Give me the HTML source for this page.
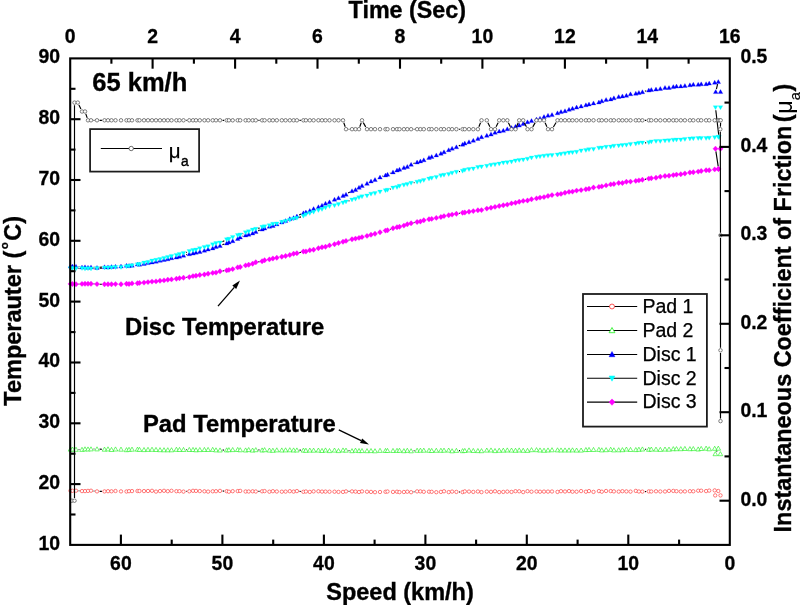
<!DOCTYPE html>
<html><head><meta charset="utf-8"><title>chart</title>
<style>html,body{margin:0;padding:0;background:#fff;}body{width:800px;height:605px;overflow:hidden;font-family:"Liberation Sans",sans-serif;}</style></head>
<body>
<svg width="800" height="605" viewBox="0 0 800 605" style="display:block;will-change:transform;transform:translateZ(0)">
<rect width="800" height="605" fill="#fff"/>
<path d="M78.6 490.8 L79.4 490.9 M93.6 491.0 L94.4 491.1 M99.6 491.4 L101.9 491.4 M186.1 491.4 L186.7 491.4 M222.6 491.0 L224.1 491.1 M258.4 491.4 L259.5 491.4 M299.5 491.3 L300.8 491.5 M348.6 491.4 L349.4 491.4 M413.7 491.9 L414.5 491.8 M459.0 492.0 L460.0 492.0 M645.0 491.6 L646.2 491.5" fill="none" stroke="#000" stroke-width="1.15"/>
<g fill="#fff" stroke="#ff2a2a" stroke-width="0.62"><circle cx="70.5" cy="490.7" r="1.7"/><circle cx="72.5" cy="490.8" r="1.7"/><circle cx="76.0" cy="490.7" r="1.7"/><circle cx="82.0" cy="491.1" r="1.7"/><circle cx="85.0" cy="491.1" r="1.7"/><circle cx="88.0" cy="490.9" r="1.7"/><circle cx="91.0" cy="490.7" r="1.7"/><circle cx="97.0" cy="491.4" r="1.7"/><circle cx="104.5" cy="491.4" r="1.7"/><circle cx="108.0" cy="491.2" r="1.7"/><circle cx="111.5" cy="491.3" r="1.7"/><circle cx="115.5" cy="491.0" r="1.7"/><circle cx="121.0" cy="491.4" r="1.7"/><circle cx="126.5" cy="491.5" r="1.7"/><circle cx="129.0" cy="491.2" r="1.7"/><circle cx="132.0" cy="491.1" r="1.7"/><circle cx="137.5" cy="491.0" r="1.7"/><circle cx="139.5" cy="491.0" r="1.7"/><circle cx="144.0" cy="491.1" r="1.7"/><circle cx="148.0" cy="491.0" r="1.7"/><circle cx="152.0" cy="490.8" r="1.7"/><circle cx="156.0" cy="491.6" r="1.7"/><circle cx="160.0" cy="491.1" r="1.7"/><circle cx="164.0" cy="490.8" r="1.7"/><circle cx="167.8" cy="491.2" r="1.7"/><circle cx="171.5" cy="490.8" r="1.7"/><circle cx="176.4" cy="491.2" r="1.7"/><circle cx="179.5" cy="491.2" r="1.7"/><circle cx="183.5" cy="491.6" r="1.7"/><circle cx="189.3" cy="491.3" r="1.7"/><circle cx="193.0" cy="490.8" r="1.7"/><circle cx="196.0" cy="490.9" r="1.7"/><circle cx="199.8" cy="491.1" r="1.7"/><circle cx="204.4" cy="491.3" r="1.7"/><circle cx="208.1" cy="491.6" r="1.7"/><circle cx="212.7" cy="491.3" r="1.7"/><circle cx="216.0" cy="491.2" r="1.7"/><circle cx="220.0" cy="490.9" r="1.7"/><circle cx="226.7" cy="491.2" r="1.7"/><circle cx="228.9" cy="491.7" r="1.7"/><circle cx="232.7" cy="491.2" r="1.7"/><circle cx="237.7" cy="491.1" r="1.7"/><circle cx="240.2" cy="490.9" r="1.7"/><circle cx="245.6" cy="491.5" r="1.7"/><circle cx="248.7" cy="491.5" r="1.7"/><circle cx="252.6" cy="491.3" r="1.7"/><circle cx="255.8" cy="491.5" r="1.7"/><circle cx="262.1" cy="491.3" r="1.7"/><circle cx="264.6" cy="491.1" r="1.7"/><circle cx="269.4" cy="491.7" r="1.7"/><circle cx="272.9" cy="491.2" r="1.7"/><circle cx="276.8" cy="491.5" r="1.7"/><circle cx="281.8" cy="491.7" r="1.7"/><circle cx="285.6" cy="491.6" r="1.7"/><circle cx="289.8" cy="491.2" r="1.7"/><circle cx="293.6" cy="491.6" r="1.7"/><circle cx="296.9" cy="491.1" r="1.7"/><circle cx="303.4" cy="491.8" r="1.7"/><circle cx="305.9" cy="491.5" r="1.7"/><circle cx="309.8" cy="491.9" r="1.7"/><circle cx="313.6" cy="491.4" r="1.7"/><circle cx="318.4" cy="491.3" r="1.7"/><circle cx="322.0" cy="491.6" r="1.7"/><circle cx="325.5" cy="491.6" r="1.7"/><circle cx="329.5" cy="491.7" r="1.7"/><circle cx="334.5" cy="491.7" r="1.7"/><circle cx="338.5" cy="491.9" r="1.7"/><circle cx="343.0" cy="491.9" r="1.7"/><circle cx="346.0" cy="491.4" r="1.7"/><circle cx="352.0" cy="491.4" r="1.7"/><circle cx="355.5" cy="491.6" r="1.7"/><circle cx="359.0" cy="492.0" r="1.7"/><circle cx="362.0" cy="491.4" r="1.7"/><circle cx="367.0" cy="491.7" r="1.7"/><circle cx="371.0" cy="491.9" r="1.7"/><circle cx="375.0" cy="492.2" r="1.7"/><circle cx="380.0" cy="492.0" r="1.7"/><circle cx="385.5" cy="491.8" r="1.7"/><circle cx="387.5" cy="491.5" r="1.7"/><circle cx="393.0" cy="491.9" r="1.7"/><circle cx="397.0" cy="491.7" r="1.7"/><circle cx="399.5" cy="492.1" r="1.7"/><circle cx="403.9" cy="492.0" r="1.7"/><circle cx="407.3" cy="491.7" r="1.7"/><circle cx="411.1" cy="492.2" r="1.7"/><circle cx="417.1" cy="491.4" r="1.7"/><circle cx="420.4" cy="491.4" r="1.7"/><circle cx="423.8" cy="491.8" r="1.7"/><circle cx="429.0" cy="491.7" r="1.7"/><circle cx="431.7" cy="491.8" r="1.7"/><circle cx="436.3" cy="492.2" r="1.7"/><circle cx="440.9" cy="491.9" r="1.7"/><circle cx="444.0" cy="491.3" r="1.7"/><circle cx="448.7" cy="492.1" r="1.7"/><circle cx="452.1" cy="491.6" r="1.7"/><circle cx="456.4" cy="491.9" r="1.7"/><circle cx="462.6" cy="492.1" r="1.7"/><circle cx="464.8" cy="491.4" r="1.7"/><circle cx="469.0" cy="491.6" r="1.7"/><circle cx="473.3" cy="491.9" r="1.7"/><circle cx="477.9" cy="491.5" r="1.7"/><circle cx="481.5" cy="492.1" r="1.7"/><circle cx="486.8" cy="491.6" r="1.7"/><circle cx="491.0" cy="491.8" r="1.7"/><circle cx="495.0" cy="491.3" r="1.7"/><circle cx="499.2" cy="492.1" r="1.7"/><circle cx="503.3" cy="491.9" r="1.7"/><circle cx="507.3" cy="491.6" r="1.7"/><circle cx="511.5" cy="491.9" r="1.7"/><circle cx="515.5" cy="491.2" r="1.7"/><circle cx="519.2" cy="491.3" r="1.7"/><circle cx="523.2" cy="492.1" r="1.7"/><circle cx="527.5" cy="491.2" r="1.7"/><circle cx="531.5" cy="491.7" r="1.7"/><circle cx="536.5" cy="491.5" r="1.7"/><circle cx="540.0" cy="491.7" r="1.7"/><circle cx="544.0" cy="491.6" r="1.7"/><circle cx="548.0" cy="491.6" r="1.7"/><circle cx="552.0" cy="491.5" r="1.7"/><circle cx="557.5" cy="491.9" r="1.7"/><circle cx="561.0" cy="491.2" r="1.7"/><circle cx="565.0" cy="491.5" r="1.7"/><circle cx="569.0" cy="491.1" r="1.7"/><circle cx="572.5" cy="491.7" r="1.7"/><circle cx="576.6" cy="491.7" r="1.7"/><circle cx="581.1" cy="491.1" r="1.7"/><circle cx="585.9" cy="491.7" r="1.7"/><circle cx="589.0" cy="491.1" r="1.7"/><circle cx="593.5" cy="491.9" r="1.7"/><circle cx="598.9" cy="491.1" r="1.7"/><circle cx="601.8" cy="491.7" r="1.7"/><circle cx="606.1" cy="491.0" r="1.7"/><circle cx="610.7" cy="491.1" r="1.7"/><circle cx="613.9" cy="491.4" r="1.7"/><circle cx="618.7" cy="491.6" r="1.7"/><circle cx="622.4" cy="491.2" r="1.7"/><circle cx="626.4" cy="491.4" r="1.7"/><circle cx="630.5" cy="491.6" r="1.7"/><circle cx="635.8" cy="490.9" r="1.7"/><circle cx="638.9" cy="491.5" r="1.7"/><circle cx="642.4" cy="491.6" r="1.7"/><circle cx="648.8" cy="491.4" r="1.7"/><circle cx="651.3" cy="491.5" r="1.7"/><circle cx="656.0" cy="491.3" r="1.7"/><circle cx="660.3" cy="491.5" r="1.7"/><circle cx="665.0" cy="491.5" r="1.7"/><circle cx="669.0" cy="490.9" r="1.7"/><circle cx="673.3" cy="490.9" r="1.7"/><circle cx="676.5" cy="491.2" r="1.7"/><circle cx="680.8" cy="491.5" r="1.7"/><circle cx="684.9" cy="491.4" r="1.7"/><circle cx="689.9" cy="491.2" r="1.7"/><circle cx="693.3" cy="491.3" r="1.7"/><circle cx="698.2" cy="490.7" r="1.7"/><circle cx="701.2" cy="490.7" r="1.7"/><circle cx="706.1" cy="491.1" r="1.7"/><circle cx="709.2" cy="490.6" r="1.7"/><circle cx="714.7" cy="490.4" r="1.7"/><circle cx="718.3" cy="491.0" r="1.7"/><circle cx="715.2" cy="495.4" r="1.7"/><circle cx="720.5" cy="495.4" r="1.7"/></g>
<path d="M78.6 449.5 L79.4 449.5 M93.6 449.0 L94.4 449.0 M99.6 449.1 L101.9 449.2 M186.1 449.6 L186.7 449.6 M222.6 450.1 L224.1 450.0 M258.4 449.9 L259.5 450.0 M299.5 450.1 L300.8 450.1 M348.6 450.5 L349.4 450.6 M413.7 450.7 L414.5 450.6 M459.0 450.6 L460.0 450.6 M645.0 449.2 L646.2 449.3 M717.1 450.6 L716.5 451.5" fill="none" stroke="#000" stroke-width="1.15"/>
<g fill="#fff" stroke="#19f019" stroke-width="0.62"><path d="M70.5 447.0 l2.3 4.1 h-4.6z"/><path d="M72.5 447.0 l2.3 4.1 h-4.6z"/><path d="M76.0 447.2 l2.3 4.1 h-4.6z"/><path d="M82.0 447.3 l2.3 4.1 h-4.6z"/><path d="M85.0 446.8 l2.3 4.1 h-4.6z"/><path d="M88.0 446.9 l2.3 4.1 h-4.6z"/><path d="M91.0 446.8 l2.3 4.1 h-4.6z"/><path d="M97.0 446.8 l2.3 4.1 h-4.6z"/><path d="M104.5 447.1 l2.3 4.1 h-4.6z"/><path d="M108.0 446.8 l2.3 4.1 h-4.6z"/><path d="M111.5 447.4 l2.3 4.1 h-4.6z"/><path d="M115.5 446.9 l2.3 4.1 h-4.6z"/><path d="M121.0 447.1 l2.3 4.1 h-4.6z"/><path d="M126.5 447.6 l2.3 4.1 h-4.6z"/><path d="M129.0 447.3 l2.3 4.1 h-4.6z"/><path d="M132.0 447.1 l2.3 4.1 h-4.6z"/><path d="M137.5 447.1 l2.3 4.1 h-4.6z"/><path d="M139.5 447.3 l2.3 4.1 h-4.6z"/><path d="M144.0 447.5 l2.3 4.1 h-4.6z"/><path d="M148.0 447.3 l2.3 4.1 h-4.6z"/><path d="M152.0 447.2 l2.3 4.1 h-4.6z"/><path d="M156.0 447.4 l2.3 4.1 h-4.6z"/><path d="M160.0 447.6 l2.3 4.1 h-4.6z"/><path d="M164.0 447.7 l2.3 4.1 h-4.6z"/><path d="M167.8 447.7 l2.3 4.1 h-4.6z"/><path d="M171.5 447.7 l2.3 4.1 h-4.6z"/><path d="M176.4 447.2 l2.3 4.1 h-4.6z"/><path d="M179.5 447.4 l2.3 4.1 h-4.6z"/><path d="M183.5 447.4 l2.3 4.1 h-4.6z"/><path d="M189.3 447.4 l2.3 4.1 h-4.6z"/><path d="M193.0 447.4 l2.3 4.1 h-4.6z"/><path d="M196.0 447.7 l2.3 4.1 h-4.6z"/><path d="M199.8 447.5 l2.3 4.1 h-4.6z"/><path d="M204.4 447.4 l2.3 4.1 h-4.6z"/><path d="M208.1 447.4 l2.3 4.1 h-4.6z"/><path d="M212.7 447.3 l2.3 4.1 h-4.6z"/><path d="M216.0 447.8 l2.3 4.1 h-4.6z"/><path d="M220.0 447.9 l2.3 4.1 h-4.6z"/><path d="M226.7 447.8 l2.3 4.1 h-4.6z"/><path d="M228.9 447.6 l2.3 4.1 h-4.6z"/><path d="M232.7 447.5 l2.3 4.1 h-4.6z"/><path d="M237.7 447.4 l2.3 4.1 h-4.6z"/><path d="M240.2 447.7 l2.3 4.1 h-4.6z"/><path d="M245.6 447.9 l2.3 4.1 h-4.6z"/><path d="M248.7 447.5 l2.3 4.1 h-4.6z"/><path d="M252.6 448.0 l2.3 4.1 h-4.6z"/><path d="M255.8 447.6 l2.3 4.1 h-4.6z"/><path d="M262.1 447.9 l2.3 4.1 h-4.6z"/><path d="M264.6 447.6 l2.3 4.1 h-4.6z"/><path d="M269.4 448.0 l2.3 4.1 h-4.6z"/><path d="M272.9 448.2 l2.3 4.1 h-4.6z"/><path d="M276.8 447.8 l2.3 4.1 h-4.6z"/><path d="M281.8 447.9 l2.3 4.1 h-4.6z"/><path d="M285.6 447.8 l2.3 4.1 h-4.6z"/><path d="M289.8 447.7 l2.3 4.1 h-4.6z"/><path d="M293.6 447.9 l2.3 4.1 h-4.6z"/><path d="M296.9 447.9 l2.3 4.1 h-4.6z"/><path d="M303.4 448.0 l2.3 4.1 h-4.6z"/><path d="M305.9 448.2 l2.3 4.1 h-4.6z"/><path d="M309.8 448.0 l2.3 4.1 h-4.6z"/><path d="M313.6 448.1 l2.3 4.1 h-4.6z"/><path d="M318.4 448.0 l2.3 4.1 h-4.6z"/><path d="M322.0 448.4 l2.3 4.1 h-4.6z"/><path d="M325.5 447.9 l2.3 4.1 h-4.6z"/><path d="M329.5 448.5 l2.3 4.1 h-4.6z"/><path d="M334.5 448.0 l2.3 4.1 h-4.6z"/><path d="M338.5 448.5 l2.3 4.1 h-4.6z"/><path d="M343.0 447.9 l2.3 4.1 h-4.6z"/><path d="M346.0 448.1 l2.3 4.1 h-4.6z"/><path d="M352.0 448.6 l2.3 4.1 h-4.6z"/><path d="M355.5 448.1 l2.3 4.1 h-4.6z"/><path d="M359.0 448.5 l2.3 4.1 h-4.6z"/><path d="M362.0 448.5 l2.3 4.1 h-4.6z"/><path d="M367.0 448.6 l2.3 4.1 h-4.6z"/><path d="M371.0 448.5 l2.3 4.1 h-4.6z"/><path d="M375.0 448.7 l2.3 4.1 h-4.6z"/><path d="M380.0 448.3 l2.3 4.1 h-4.6z"/><path d="M385.5 448.4 l2.3 4.1 h-4.6z"/><path d="M387.5 448.4 l2.3 4.1 h-4.6z"/><path d="M393.0 448.4 l2.3 4.1 h-4.6z"/><path d="M397.0 448.3 l2.3 4.1 h-4.6z"/><path d="M399.5 448.2 l2.3 4.1 h-4.6z"/><path d="M403.9 448.6 l2.3 4.1 h-4.6z"/><path d="M407.3 448.2 l2.3 4.1 h-4.6z"/><path d="M411.1 448.7 l2.3 4.1 h-4.6z"/><path d="M417.1 448.2 l2.3 4.1 h-4.6z"/><path d="M420.4 448.1 l2.3 4.1 h-4.6z"/><path d="M423.8 448.1 l2.3 4.1 h-4.6z"/><path d="M429.0 448.2 l2.3 4.1 h-4.6z"/><path d="M431.7 448.4 l2.3 4.1 h-4.6z"/><path d="M436.3 448.2 l2.3 4.1 h-4.6z"/><path d="M440.9 448.2 l2.3 4.1 h-4.6z"/><path d="M444.0 448.1 l2.3 4.1 h-4.6z"/><path d="M448.7 448.0 l2.3 4.1 h-4.6z"/><path d="M452.1 448.7 l2.3 4.1 h-4.6z"/><path d="M456.4 448.3 l2.3 4.1 h-4.6z"/><path d="M462.6 448.6 l2.3 4.1 h-4.6z"/><path d="M464.8 448.4 l2.3 4.1 h-4.6z"/><path d="M469.0 447.9 l2.3 4.1 h-4.6z"/><path d="M473.3 448.4 l2.3 4.1 h-4.6z"/><path d="M477.9 448.5 l2.3 4.1 h-4.6z"/><path d="M481.5 448.6 l2.3 4.1 h-4.6z"/><path d="M486.8 448.0 l2.3 4.1 h-4.6z"/><path d="M491.0 447.9 l2.3 4.1 h-4.6z"/><path d="M495.0 448.5 l2.3 4.1 h-4.6z"/><path d="M499.2 448.2 l2.3 4.1 h-4.6z"/><path d="M503.3 448.1 l2.3 4.1 h-4.6z"/><path d="M507.3 447.9 l2.3 4.1 h-4.6z"/><path d="M511.5 448.0 l2.3 4.1 h-4.6z"/><path d="M515.5 448.2 l2.3 4.1 h-4.6z"/><path d="M519.2 447.9 l2.3 4.1 h-4.6z"/><path d="M523.2 448.2 l2.3 4.1 h-4.6z"/><path d="M527.5 448.3 l2.3 4.1 h-4.6z"/><path d="M531.5 447.6 l2.3 4.1 h-4.6z"/><path d="M536.5 447.6 l2.3 4.1 h-4.6z"/><path d="M540.0 447.9 l2.3 4.1 h-4.6z"/><path d="M544.0 448.2 l2.3 4.1 h-4.6z"/><path d="M548.0 447.9 l2.3 4.1 h-4.6z"/><path d="M552.0 447.7 l2.3 4.1 h-4.6z"/><path d="M557.5 447.8 l2.3 4.1 h-4.6z"/><path d="M561.0 447.9 l2.3 4.1 h-4.6z"/><path d="M565.0 447.9 l2.3 4.1 h-4.6z"/><path d="M569.0 447.9 l2.3 4.1 h-4.6z"/><path d="M572.5 447.8 l2.3 4.1 h-4.6z"/><path d="M576.6 448.0 l2.3 4.1 h-4.6z"/><path d="M581.1 448.0 l2.3 4.1 h-4.6z"/><path d="M585.9 447.5 l2.3 4.1 h-4.6z"/><path d="M589.0 447.4 l2.3 4.1 h-4.6z"/><path d="M593.5 447.4 l2.3 4.1 h-4.6z"/><path d="M598.9 447.3 l2.3 4.1 h-4.6z"/><path d="M601.8 447.8 l2.3 4.1 h-4.6z"/><path d="M606.1 447.6 l2.3 4.1 h-4.6z"/><path d="M610.7 447.2 l2.3 4.1 h-4.6z"/><path d="M613.9 447.8 l2.3 4.1 h-4.6z"/><path d="M618.7 447.7 l2.3 4.1 h-4.6z"/><path d="M622.4 447.6 l2.3 4.1 h-4.6z"/><path d="M626.4 447.0 l2.3 4.1 h-4.6z"/><path d="M630.5 447.4 l2.3 4.1 h-4.6z"/><path d="M635.8 447.5 l2.3 4.1 h-4.6z"/><path d="M638.9 447.2 l2.3 4.1 h-4.6z"/><path d="M642.4 446.9 l2.3 4.1 h-4.6z"/><path d="M648.8 447.2 l2.3 4.1 h-4.6z"/><path d="M651.3 447.0 l2.3 4.1 h-4.6z"/><path d="M656.0 447.1 l2.3 4.1 h-4.6z"/><path d="M660.3 447.3 l2.3 4.1 h-4.6z"/><path d="M665.0 447.0 l2.3 4.1 h-4.6z"/><path d="M669.0 447.1 l2.3 4.1 h-4.6z"/><path d="M673.3 446.6 l2.3 4.1 h-4.6z"/><path d="M676.5 446.6 l2.3 4.1 h-4.6z"/><path d="M680.8 446.6 l2.3 4.1 h-4.6z"/><path d="M684.9 446.4 l2.3 4.1 h-4.6z"/><path d="M689.9 446.6 l2.3 4.1 h-4.6z"/><path d="M693.3 446.5 l2.3 4.1 h-4.6z"/><path d="M698.2 446.9 l2.3 4.1 h-4.6z"/><path d="M701.2 446.4 l2.3 4.1 h-4.6z"/><path d="M706.1 446.1 l2.3 4.1 h-4.6z"/><path d="M709.2 446.7 l2.3 4.1 h-4.6z"/><path d="M714.7 446.2 l2.3 4.1 h-4.6z"/><path d="M718.3 446.1 l2.3 4.1 h-4.6z"/><path d="M715.3 451.6 l2.3 4.1 h-4.6z"/><path d="M720.4 451.6 l2.3 4.1 h-4.6z"/></g>
<path d="M78.6 266.7 L79.4 266.8 M93.6 267.2 L94.4 267.3 M99.6 267.2 L101.9 267.0 M186.0 254.7 L186.8 254.5 M222.4 244.7 L224.3 244.0 M242.6 236.3 L243.2 236.1 M258.2 230.6 L259.7 230.1 M299.2 215.0 L301.1 214.1 M348.2 193.0 L349.8 192.1 M382.4 176.3 L383.1 176.0 M389.9 173.3 L390.6 173.0 M413.5 163.5 L414.7 163.0 M458.8 145.9 L460.2 145.3 M644.9 91.2 L646.3 90.8 M717.6 84.2 L716.4 89.2" fill="none" stroke="#000" stroke-width="1.15"/>
<g fill="#0000ff" stroke="#0000ff" stroke-width="0.25"><path d="M70.5 264.0 l2.3 4.0 h-4.6z"/><path d="M72.5 264.0 l2.3 4.0 h-4.6z"/><path d="M76.0 264.3 l2.3 4.0 h-4.6z"/><path d="M82.0 265.0 l2.3 4.0 h-4.6z"/><path d="M85.0 264.8 l2.3 4.0 h-4.6z"/><path d="M88.0 265.3 l2.3 4.0 h-4.6z"/><path d="M91.0 264.9 l2.3 4.0 h-4.6z"/><path d="M97.0 265.4 l2.3 4.0 h-4.6z"/><path d="M104.5 264.7 l2.3 4.0 h-4.6z"/><path d="M108.0 264.9 l2.3 4.0 h-4.6z"/><path d="M111.5 264.6 l2.3 4.0 h-4.6z"/><path d="M115.5 264.3 l2.3 4.0 h-4.6z"/><path d="M121.0 264.1 l2.3 4.0 h-4.6z"/><path d="M126.5 263.3 l2.3 4.0 h-4.6z"/><path d="M129.0 263.6 l2.3 4.0 h-4.6z"/><path d="M132.0 263.2 l2.3 4.0 h-4.6z"/><path d="M137.5 262.0 l2.3 4.0 h-4.6z"/><path d="M139.5 262.2 l2.3 4.0 h-4.6z"/><path d="M144.0 261.4 l2.3 4.0 h-4.6z"/><path d="M148.0 260.6 l2.3 4.0 h-4.6z"/><path d="M152.0 260.0 l2.3 4.0 h-4.6z"/><path d="M156.0 259.2 l2.3 4.0 h-4.6z"/><path d="M160.0 258.3 l2.3 4.0 h-4.6z"/><path d="M164.0 257.4 l2.3 4.0 h-4.6z"/><path d="M167.8 256.8 l2.3 4.0 h-4.6z"/><path d="M171.5 255.7 l2.3 4.0 h-4.6z"/><path d="M176.4 255.1 l2.3 4.0 h-4.6z"/><path d="M179.5 254.3 l2.3 4.0 h-4.6z"/><path d="M183.5 253.2 l2.3 4.0 h-4.6z"/><path d="M189.3 251.8 l2.3 4.0 h-4.6z"/><path d="M193.0 251.1 l2.3 4.0 h-4.6z"/><path d="M196.0 250.2 l2.3 4.0 h-4.6z"/><path d="M199.8 249.5 l2.3 4.0 h-4.6z"/><path d="M204.4 248.2 l2.3 4.0 h-4.6z"/><path d="M208.1 247.1 l2.3 4.0 h-4.6z"/><path d="M212.7 245.9 l2.3 4.0 h-4.6z"/><path d="M216.0 244.4 l2.3 4.0 h-4.6z"/><path d="M220.0 243.5 l2.3 4.0 h-4.6z"/><path d="M226.7 241.0 l2.3 4.0 h-4.6z"/><path d="M228.9 240.0 l2.3 4.0 h-4.6z"/><path d="M232.7 238.7 l2.3 4.0 h-4.6z"/><path d="M237.7 236.5 l2.3 4.0 h-4.6z"/><path d="M240.2 235.1 l2.3 4.0 h-4.6z"/><path d="M245.6 233.0 l2.3 4.0 h-4.6z"/><path d="M248.7 232.2 l2.3 4.0 h-4.6z"/><path d="M252.6 231.0 l2.3 4.0 h-4.6z"/><path d="M255.8 229.4 l2.3 4.0 h-4.6z"/><path d="M262.1 227.1 l2.3 4.0 h-4.6z"/><path d="M264.6 226.0 l2.3 4.0 h-4.6z"/><path d="M269.4 224.3 l2.3 4.0 h-4.6z"/><path d="M272.9 223.5 l2.3 4.0 h-4.6z"/><path d="M276.8 221.9 l2.3 4.0 h-4.6z"/><path d="M281.8 220.0 l2.3 4.0 h-4.6z"/><path d="M285.6 218.6 l2.3 4.0 h-4.6z"/><path d="M289.8 216.6 l2.3 4.0 h-4.6z"/><path d="M293.6 215.6 l2.3 4.0 h-4.6z"/><path d="M296.9 214.1 l2.3 4.0 h-4.6z"/><path d="M303.4 210.8 l2.3 4.0 h-4.6z"/><path d="M305.9 210.0 l2.3 4.0 h-4.6z"/><path d="M309.8 208.4 l2.3 4.0 h-4.6z"/><path d="M313.6 206.6 l2.3 4.0 h-4.6z"/><path d="M318.4 204.7 l2.3 4.0 h-4.6z"/><path d="M322.0 203.2 l2.3 4.0 h-4.6z"/><path d="M325.5 201.2 l2.3 4.0 h-4.6z"/><path d="M329.5 199.8 l2.3 4.0 h-4.6z"/><path d="M334.5 197.2 l2.3 4.0 h-4.6z"/><path d="M338.5 195.7 l2.3 4.0 h-4.6z"/><path d="M343.0 193.4 l2.3 4.0 h-4.6z"/><path d="M346.0 192.2 l2.3 4.0 h-4.6z"/><path d="M352.0 188.7 l2.3 4.0 h-4.6z"/><path d="M355.5 187.5 l2.3 4.0 h-4.6z"/><path d="M359.0 185.3 l2.3 4.0 h-4.6z"/><path d="M362.0 183.5 l2.3 4.0 h-4.6z"/><path d="M367.0 181.3 l2.3 4.0 h-4.6z"/><path d="M371.0 179.0 l2.3 4.0 h-4.6z"/><path d="M375.0 177.5 l2.3 4.0 h-4.6z"/><path d="M380.0 175.1 l2.3 4.0 h-4.6z"/><path d="M385.5 173.0 l2.3 4.0 h-4.6z"/><path d="M387.5 172.2 l2.3 4.0 h-4.6z"/><path d="M393.0 169.9 l2.3 4.0 h-4.6z"/><path d="M397.0 168.0 l2.3 4.0 h-4.6z"/><path d="M399.5 167.2 l2.3 4.0 h-4.6z"/><path d="M403.9 165.4 l2.3 4.0 h-4.6z"/><path d="M407.3 164.4 l2.3 4.0 h-4.6z"/><path d="M411.1 162.3 l2.3 4.0 h-4.6z"/><path d="M417.1 160.0 l2.3 4.0 h-4.6z"/><path d="M420.4 158.9 l2.3 4.0 h-4.6z"/><path d="M423.8 157.8 l2.3 4.0 h-4.6z"/><path d="M429.0 155.4 l2.3 4.0 h-4.6z"/><path d="M431.7 154.5 l2.3 4.0 h-4.6z"/><path d="M436.3 152.9 l2.3 4.0 h-4.6z"/><path d="M440.9 151.3 l2.3 4.0 h-4.6z"/><path d="M444.0 149.8 l2.3 4.0 h-4.6z"/><path d="M448.7 147.7 l2.3 4.0 h-4.6z"/><path d="M452.1 146.2 l2.3 4.0 h-4.6z"/><path d="M456.4 144.8 l2.3 4.0 h-4.6z"/><path d="M462.6 142.2 l2.3 4.0 h-4.6z"/><path d="M464.8 141.1 l2.3 4.0 h-4.6z"/><path d="M469.0 139.7 l2.3 4.0 h-4.6z"/><path d="M473.3 138.2 l2.3 4.0 h-4.6z"/><path d="M477.9 136.4 l2.3 4.0 h-4.6z"/><path d="M481.5 134.7 l2.3 4.0 h-4.6z"/><path d="M486.8 133.3 l2.3 4.0 h-4.6z"/><path d="M491.0 132.1 l2.3 4.0 h-4.6z"/><path d="M495.0 130.3 l2.3 4.0 h-4.6z"/><path d="M499.2 129.1 l2.3 4.0 h-4.6z"/><path d="M503.3 128.3 l2.3 4.0 h-4.6z"/><path d="M507.3 126.8 l2.3 4.0 h-4.6z"/><path d="M511.5 125.5 l2.3 4.0 h-4.6z"/><path d="M515.5 124.3 l2.3 4.0 h-4.6z"/><path d="M519.2 123.1 l2.3 4.0 h-4.6z"/><path d="M523.2 121.5 l2.3 4.0 h-4.6z"/><path d="M527.5 119.8 l2.3 4.0 h-4.6z"/><path d="M531.5 118.6 l2.3 4.0 h-4.6z"/><path d="M536.5 117.0 l2.3 4.0 h-4.6z"/><path d="M540.0 116.2 l2.3 4.0 h-4.6z"/><path d="M544.0 114.6 l2.3 4.0 h-4.6z"/><path d="M548.0 113.2 l2.3 4.0 h-4.6z"/><path d="M552.0 112.6 l2.3 4.0 h-4.6z"/><path d="M557.5 110.8 l2.3 4.0 h-4.6z"/><path d="M561.0 109.6 l2.3 4.0 h-4.6z"/><path d="M565.0 108.7 l2.3 4.0 h-4.6z"/><path d="M569.0 107.3 l2.3 4.0 h-4.6z"/><path d="M572.5 106.3 l2.3 4.0 h-4.6z"/><path d="M576.6 105.1 l2.3 4.0 h-4.6z"/><path d="M581.1 104.0 l2.3 4.0 h-4.6z"/><path d="M585.9 102.8 l2.3 4.0 h-4.6z"/><path d="M589.0 102.0 l2.3 4.0 h-4.6z"/><path d="M593.5 100.9 l2.3 4.0 h-4.6z"/><path d="M598.9 100.0 l2.3 4.0 h-4.6z"/><path d="M601.8 98.7 l2.3 4.0 h-4.6z"/><path d="M606.1 97.5 l2.3 4.0 h-4.6z"/><path d="M610.7 96.9 l2.3 4.0 h-4.6z"/><path d="M613.9 95.8 l2.3 4.0 h-4.6z"/><path d="M618.7 94.5 l2.3 4.0 h-4.6z"/><path d="M622.4 93.9 l2.3 4.0 h-4.6z"/><path d="M626.4 93.3 l2.3 4.0 h-4.6z"/><path d="M630.5 91.8 l2.3 4.0 h-4.6z"/><path d="M635.8 91.2 l2.3 4.0 h-4.6z"/><path d="M638.9 90.4 l2.3 4.0 h-4.6z"/><path d="M642.4 89.7 l2.3 4.0 h-4.6z"/><path d="M648.8 88.1 l2.3 4.0 h-4.6z"/><path d="M651.3 87.5 l2.3 4.0 h-4.6z"/><path d="M656.0 87.1 l2.3 4.0 h-4.6z"/><path d="M660.3 86.4 l2.3 4.0 h-4.6z"/><path d="M665.0 85.4 l2.3 4.0 h-4.6z"/><path d="M669.0 85.5 l2.3 4.0 h-4.6z"/><path d="M673.3 84.6 l2.3 4.0 h-4.6z"/><path d="M676.5 84.1 l2.3 4.0 h-4.6z"/><path d="M680.8 83.9 l2.3 4.0 h-4.6z"/><path d="M684.9 83.5 l2.3 4.0 h-4.6z"/><path d="M689.9 82.8 l2.3 4.0 h-4.6z"/><path d="M693.3 82.2 l2.3 4.0 h-4.6z"/><path d="M698.2 82.3 l2.3 4.0 h-4.6z"/><path d="M701.2 81.8 l2.3 4.0 h-4.6z"/><path d="M706.1 81.7 l2.3 4.0 h-4.6z"/><path d="M709.2 81.1 l2.3 4.0 h-4.6z"/><path d="M714.7 80.2 l2.3 4.0 h-4.6z"/><path d="M718.3 79.6 l2.3 4.0 h-4.6z"/><path d="M715.7 89.6 l2.3 4.0 h-4.6z"/><path d="M720.5 89.6 l2.3 4.0 h-4.6z"/></g>
<path d="M78.6 268.5 L79.4 268.5 M93.6 268.7 L94.4 268.7 M99.6 268.3 L101.9 268.1 M186.0 252.5 L186.8 252.3 M222.4 241.7 L224.3 240.8 M242.6 233.8 L243.2 233.6 M258.3 228.4 L259.6 228.0 M299.4 217.4 L300.9 216.9 M348.5 201.0 L349.5 200.7 M389.9 189.2 L390.6 188.9 M413.7 182.7 L414.5 182.6 M459.0 171.7 L460.0 171.5 M645.0 142.9 L646.2 142.8 M718.7 134.8 L715.8 110.2" fill="none" stroke="#000" stroke-width="1.15"/>
<g fill="#00ffff" stroke="#00ffff" stroke-width="0.25"><path d="M70.5 270.8 l2.3 -4.0 h-4.6z"/><path d="M72.5 270.5 l2.3 -4.0 h-4.6z"/><path d="M76.0 270.7 l2.3 -4.0 h-4.6z"/><path d="M82.0 270.5 l2.3 -4.0 h-4.6z"/><path d="M85.0 271.1 l2.3 -4.0 h-4.6z"/><path d="M88.0 270.8 l2.3 -4.0 h-4.6z"/><path d="M91.0 271.0 l2.3 -4.0 h-4.6z"/><path d="M97.0 270.6 l2.3 -4.0 h-4.6z"/><path d="M104.5 270.0 l2.3 -4.0 h-4.6z"/><path d="M108.0 270.0 l2.3 -4.0 h-4.6z"/><path d="M111.5 269.7 l2.3 -4.0 h-4.6z"/><path d="M115.5 269.5 l2.3 -4.0 h-4.6z"/><path d="M121.0 269.4 l2.3 -4.0 h-4.6z"/><path d="M126.5 268.8 l2.3 -4.0 h-4.6z"/><path d="M129.0 268.3 l2.3 -4.0 h-4.6z"/><path d="M132.0 267.7 l2.3 -4.0 h-4.6z"/><path d="M137.5 266.8 l2.3 -4.0 h-4.6z"/><path d="M139.5 266.5 l2.3 -4.0 h-4.6z"/><path d="M144.0 265.1 l2.3 -4.0 h-4.6z"/><path d="M148.0 264.4 l2.3 -4.0 h-4.6z"/><path d="M152.0 263.0 l2.3 -4.0 h-4.6z"/><path d="M156.0 262.3 l2.3 -4.0 h-4.6z"/><path d="M160.0 261.5 l2.3 -4.0 h-4.6z"/><path d="M164.0 260.4 l2.3 -4.0 h-4.6z"/><path d="M167.8 259.4 l2.3 -4.0 h-4.6z"/><path d="M171.5 258.4 l2.3 -4.0 h-4.6z"/><path d="M176.4 257.4 l2.3 -4.0 h-4.6z"/><path d="M179.5 256.4 l2.3 -4.0 h-4.6z"/><path d="M183.5 255.4 l2.3 -4.0 h-4.6z"/><path d="M189.3 253.6 l2.3 -4.0 h-4.6z"/><path d="M193.0 252.5 l2.3 -4.0 h-4.6z"/><path d="M196.0 252.0 l2.3 -4.0 h-4.6z"/><path d="M199.8 250.7 l2.3 -4.0 h-4.6z"/><path d="M204.4 249.4 l2.3 -4.0 h-4.6z"/><path d="M208.1 248.7 l2.3 -4.0 h-4.6z"/><path d="M212.7 246.8 l2.3 -4.0 h-4.6z"/><path d="M216.0 245.6 l2.3 -4.0 h-4.6z"/><path d="M220.0 244.9 l2.3 -4.0 h-4.6z"/><path d="M226.7 241.8 l2.3 -4.0 h-4.6z"/><path d="M228.9 241.2 l2.3 -4.0 h-4.6z"/><path d="M232.7 239.4 l2.3 -4.0 h-4.6z"/><path d="M237.7 237.5 l2.3 -4.0 h-4.6z"/><path d="M240.2 236.9 l2.3 -4.0 h-4.6z"/><path d="M245.6 234.7 l2.3 -4.0 h-4.6z"/><path d="M248.7 233.7 l2.3 -4.0 h-4.6z"/><path d="M252.6 232.1 l2.3 -4.0 h-4.6z"/><path d="M255.8 231.3 l2.3 -4.0 h-4.6z"/><path d="M262.1 229.3 l2.3 -4.0 h-4.6z"/><path d="M264.6 228.8 l2.3 -4.0 h-4.6z"/><path d="M269.4 227.7 l2.3 -4.0 h-4.6z"/><path d="M272.9 226.3 l2.3 -4.0 h-4.6z"/><path d="M276.8 226.0 l2.3 -4.0 h-4.6z"/><path d="M281.8 224.3 l2.3 -4.0 h-4.6z"/><path d="M285.6 223.5 l2.3 -4.0 h-4.6z"/><path d="M289.8 222.2 l2.3 -4.0 h-4.6z"/><path d="M293.6 221.0 l2.3 -4.0 h-4.6z"/><path d="M296.9 220.3 l2.3 -4.0 h-4.6z"/><path d="M303.4 218.2 l2.3 -4.0 h-4.6z"/><path d="M305.9 216.7 l2.3 -4.0 h-4.6z"/><path d="M309.8 215.4 l2.3 -4.0 h-4.6z"/><path d="M313.6 214.2 l2.3 -4.0 h-4.6z"/><path d="M318.4 212.5 l2.3 -4.0 h-4.6z"/><path d="M322.0 211.4 l2.3 -4.0 h-4.6z"/><path d="M325.5 210.0 l2.3 -4.0 h-4.6z"/><path d="M329.5 208.5 l2.3 -4.0 h-4.6z"/><path d="M334.5 207.7 l2.3 -4.0 h-4.6z"/><path d="M338.5 206.5 l2.3 -4.0 h-4.6z"/><path d="M343.0 204.9 l2.3 -4.0 h-4.6z"/><path d="M346.0 203.9 l2.3 -4.0 h-4.6z"/><path d="M352.0 202.0 l2.3 -4.0 h-4.6z"/><path d="M355.5 201.2 l2.3 -4.0 h-4.6z"/><path d="M359.0 199.7 l2.3 -4.0 h-4.6z"/><path d="M362.0 198.8 l2.3 -4.0 h-4.6z"/><path d="M367.0 197.9 l2.3 -4.0 h-4.6z"/><path d="M371.0 196.2 l2.3 -4.0 h-4.6z"/><path d="M375.0 195.6 l2.3 -4.0 h-4.6z"/><path d="M380.0 194.1 l2.3 -4.0 h-4.6z"/><path d="M385.5 192.7 l2.3 -4.0 h-4.6z"/><path d="M387.5 192.2 l2.3 -4.0 h-4.6z"/><path d="M393.0 190.1 l2.3 -4.0 h-4.6z"/><path d="M397.0 189.5 l2.3 -4.0 h-4.6z"/><path d="M399.5 188.3 l2.3 -4.0 h-4.6z"/><path d="M403.9 187.2 l2.3 -4.0 h-4.6z"/><path d="M407.3 186.6 l2.3 -4.0 h-4.6z"/><path d="M411.1 185.3 l2.3 -4.0 h-4.6z"/><path d="M417.1 184.2 l2.3 -4.0 h-4.6z"/><path d="M420.4 183.5 l2.3 -4.0 h-4.6z"/><path d="M423.8 182.4 l2.3 -4.0 h-4.6z"/><path d="M429.0 181.1 l2.3 -4.0 h-4.6z"/><path d="M431.7 180.3 l2.3 -4.0 h-4.6z"/><path d="M436.3 179.4 l2.3 -4.0 h-4.6z"/><path d="M440.9 177.8 l2.3 -4.0 h-4.6z"/><path d="M444.0 177.2 l2.3 -4.0 h-4.6z"/><path d="M448.7 176.5 l2.3 -4.0 h-4.6z"/><path d="M452.1 175.2 l2.3 -4.0 h-4.6z"/><path d="M456.4 174.3 l2.3 -4.0 h-4.6z"/><path d="M462.6 173.2 l2.3 -4.0 h-4.6z"/><path d="M464.8 172.2 l2.3 -4.0 h-4.6z"/><path d="M469.0 171.6 l2.3 -4.0 h-4.6z"/><path d="M473.3 171.0 l2.3 -4.0 h-4.6z"/><path d="M477.9 169.5 l2.3 -4.0 h-4.6z"/><path d="M481.5 168.9 l2.3 -4.0 h-4.6z"/><path d="M486.8 168.3 l2.3 -4.0 h-4.6z"/><path d="M491.0 167.2 l2.3 -4.0 h-4.6z"/><path d="M495.0 166.8 l2.3 -4.0 h-4.6z"/><path d="M499.2 166.1 l2.3 -4.0 h-4.6z"/><path d="M503.3 165.1 l2.3 -4.0 h-4.6z"/><path d="M507.3 164.7 l2.3 -4.0 h-4.6z"/><path d="M511.5 164.1 l2.3 -4.0 h-4.6z"/><path d="M515.5 163.0 l2.3 -4.0 h-4.6z"/><path d="M519.2 162.4 l2.3 -4.0 h-4.6z"/><path d="M523.2 162.1 l2.3 -4.0 h-4.6z"/><path d="M527.5 161.2 l2.3 -4.0 h-4.6z"/><path d="M531.5 160.0 l2.3 -4.0 h-4.6z"/><path d="M536.5 159.3 l2.3 -4.0 h-4.6z"/><path d="M540.0 158.8 l2.3 -4.0 h-4.6z"/><path d="M544.0 158.2 l2.3 -4.0 h-4.6z"/><path d="M548.0 157.8 l2.3 -4.0 h-4.6z"/><path d="M552.0 157.5 l2.3 -4.0 h-4.6z"/><path d="M557.5 156.9 l2.3 -4.0 h-4.6z"/><path d="M561.0 156.3 l2.3 -4.0 h-4.6z"/><path d="M565.0 155.8 l2.3 -4.0 h-4.6z"/><path d="M569.0 155.0 l2.3 -4.0 h-4.6z"/><path d="M572.5 154.7 l2.3 -4.0 h-4.6z"/><path d="M576.6 154.3 l2.3 -4.0 h-4.6z"/><path d="M581.1 152.9 l2.3 -4.0 h-4.6z"/><path d="M585.9 152.4 l2.3 -4.0 h-4.6z"/><path d="M589.0 151.7 l2.3 -4.0 h-4.6z"/><path d="M593.5 151.4 l2.3 -4.0 h-4.6z"/><path d="M598.9 150.2 l2.3 -4.0 h-4.6z"/><path d="M601.8 150.0 l2.3 -4.0 h-4.6z"/><path d="M606.1 149.3 l2.3 -4.0 h-4.6z"/><path d="M610.7 149.1 l2.3 -4.0 h-4.6z"/><path d="M613.9 148.2 l2.3 -4.0 h-4.6z"/><path d="M618.7 147.9 l2.3 -4.0 h-4.6z"/><path d="M622.4 147.5 l2.3 -4.0 h-4.6z"/><path d="M626.4 147.2 l2.3 -4.0 h-4.6z"/><path d="M630.5 146.4 l2.3 -4.0 h-4.6z"/><path d="M635.8 146.1 l2.3 -4.0 h-4.6z"/><path d="M638.9 145.2 l2.3 -4.0 h-4.6z"/><path d="M642.4 145.1 l2.3 -4.0 h-4.6z"/><path d="M648.8 144.7 l2.3 -4.0 h-4.6z"/><path d="M651.3 143.9 l2.3 -4.0 h-4.6z"/><path d="M656.0 143.4 l2.3 -4.0 h-4.6z"/><path d="M660.3 143.4 l2.3 -4.0 h-4.6z"/><path d="M665.0 142.9 l2.3 -4.0 h-4.6z"/><path d="M669.0 142.8 l2.3 -4.0 h-4.6z"/><path d="M673.3 142.2 l2.3 -4.0 h-4.6z"/><path d="M676.5 142.1 l2.3 -4.0 h-4.6z"/><path d="M680.8 142.0 l2.3 -4.0 h-4.6z"/><path d="M684.9 141.4 l2.3 -4.0 h-4.6z"/><path d="M689.9 141.0 l2.3 -4.0 h-4.6z"/><path d="M693.3 140.8 l2.3 -4.0 h-4.6z"/><path d="M698.2 140.6 l2.3 -4.0 h-4.6z"/><path d="M701.2 140.4 l2.3 -4.0 h-4.6z"/><path d="M706.1 140.5 l2.3 -4.0 h-4.6z"/><path d="M709.2 140.2 l2.3 -4.0 h-4.6z"/><path d="M714.7 139.7 l2.3 -4.0 h-4.6z"/><path d="M718.3 139.3 l2.3 -4.0 h-4.6z"/><path d="M719.0 139.5 l2.3 -4.0 h-4.6z"/><path d="M715.5 109.7 l2.3 -4.0 h-4.6z"/><path d="M720.5 109.7 l2.3 -4.0 h-4.6z"/></g>
<path d="M78.6 284.1 L79.4 284.0 M93.6 283.9 L94.4 283.9 M99.6 284.2 L101.9 284.2 M186.1 277.4 L186.7 277.4 M222.6 271.0 L224.1 270.8 M258.4 261.9 L259.5 261.6 M299.4 252.6 L300.9 252.2 M348.5 240.2 L349.5 240.0 M389.9 229.4 L390.6 229.2 M413.6 222.7 L414.6 222.5 M459.0 213.3 L460.0 213.2 M645.0 179.4 L646.2 179.1 M718.2 166.4 L715.9 151.3" fill="none" stroke="#000" stroke-width="1.15"/>
<g fill="#ff00ff" stroke="#ff00ff" stroke-width="0.25"><path d="M70.5 281.2 l2.6 2.7 l-2.6 2.7 l-2.6 -2.7z"/><path d="M72.5 281.3 l2.6 2.7 l-2.6 2.7 l-2.6 -2.7z"/><path d="M76.0 281.5 l2.6 2.7 l-2.6 2.7 l-2.6 -2.7z"/><path d="M82.0 281.2 l2.6 2.7 l-2.6 2.7 l-2.6 -2.7z"/><path d="M85.0 281.1 l2.6 2.7 l-2.6 2.7 l-2.6 -2.7z"/><path d="M88.0 281.1 l2.6 2.7 l-2.6 2.7 l-2.6 -2.7z"/><path d="M91.0 281.1 l2.6 2.7 l-2.6 2.7 l-2.6 -2.7z"/><path d="M97.0 281.4 l2.6 2.7 l-2.6 2.7 l-2.6 -2.7z"/><path d="M104.5 281.6 l2.6 2.7 l-2.6 2.7 l-2.6 -2.7z"/><path d="M108.0 281.5 l2.6 2.7 l-2.6 2.7 l-2.6 -2.7z"/><path d="M111.5 281.6 l2.6 2.7 l-2.6 2.7 l-2.6 -2.7z"/><path d="M115.5 281.4 l2.6 2.7 l-2.6 2.7 l-2.6 -2.7z"/><path d="M121.0 281.5 l2.6 2.7 l-2.6 2.7 l-2.6 -2.7z"/><path d="M126.5 281.1 l2.6 2.7 l-2.6 2.7 l-2.6 -2.7z"/><path d="M129.0 281.3 l2.6 2.7 l-2.6 2.7 l-2.6 -2.7z"/><path d="M132.0 280.7 l2.6 2.7 l-2.6 2.7 l-2.6 -2.7z"/><path d="M137.5 280.6 l2.6 2.7 l-2.6 2.7 l-2.6 -2.7z"/><path d="M139.5 280.2 l2.6 2.7 l-2.6 2.7 l-2.6 -2.7z"/><path d="M144.0 279.9 l2.6 2.7 l-2.6 2.7 l-2.6 -2.7z"/><path d="M148.0 279.4 l2.6 2.7 l-2.6 2.7 l-2.6 -2.7z"/><path d="M152.0 278.9 l2.6 2.7 l-2.6 2.7 l-2.6 -2.7z"/><path d="M156.0 278.7 l2.6 2.7 l-2.6 2.7 l-2.6 -2.7z"/><path d="M160.0 278.0 l2.6 2.7 l-2.6 2.7 l-2.6 -2.7z"/><path d="M164.0 277.7 l2.6 2.7 l-2.6 2.7 l-2.6 -2.7z"/><path d="M167.8 277.0 l2.6 2.7 l-2.6 2.7 l-2.6 -2.7z"/><path d="M171.5 276.7 l2.6 2.7 l-2.6 2.7 l-2.6 -2.7z"/><path d="M176.4 276.0 l2.6 2.7 l-2.6 2.7 l-2.6 -2.7z"/><path d="M179.5 275.5 l2.6 2.7 l-2.6 2.7 l-2.6 -2.7z"/><path d="M183.5 275.0 l2.6 2.7 l-2.6 2.7 l-2.6 -2.7z"/><path d="M189.3 274.4 l2.6 2.7 l-2.6 2.7 l-2.6 -2.7z"/><path d="M193.0 273.4 l2.6 2.7 l-2.6 2.7 l-2.6 -2.7z"/><path d="M196.0 273.0 l2.6 2.7 l-2.6 2.7 l-2.6 -2.7z"/><path d="M199.8 272.3 l2.6 2.7 l-2.6 2.7 l-2.6 -2.7z"/><path d="M204.4 271.8 l2.6 2.7 l-2.6 2.7 l-2.6 -2.7z"/><path d="M208.1 271.0 l2.6 2.7 l-2.6 2.7 l-2.6 -2.7z"/><path d="M212.7 270.2 l2.6 2.7 l-2.6 2.7 l-2.6 -2.7z"/><path d="M216.0 269.9 l2.6 2.7 l-2.6 2.7 l-2.6 -2.7z"/><path d="M220.0 268.6 l2.6 2.7 l-2.6 2.7 l-2.6 -2.7z"/><path d="M226.7 267.7 l2.6 2.7 l-2.6 2.7 l-2.6 -2.7z"/><path d="M228.9 267.2 l2.6 2.7 l-2.6 2.7 l-2.6 -2.7z"/><path d="M232.7 266.4 l2.6 2.7 l-2.6 2.7 l-2.6 -2.7z"/><path d="M237.7 264.7 l2.6 2.7 l-2.6 2.7 l-2.6 -2.7z"/><path d="M240.2 264.3 l2.6 2.7 l-2.6 2.7 l-2.6 -2.7z"/><path d="M245.6 262.7 l2.6 2.7 l-2.6 2.7 l-2.6 -2.7z"/><path d="M248.7 262.0 l2.6 2.7 l-2.6 2.7 l-2.6 -2.7z"/><path d="M252.6 261.0 l2.6 2.7 l-2.6 2.7 l-2.6 -2.7z"/><path d="M255.8 259.6 l2.6 2.7 l-2.6 2.7 l-2.6 -2.7z"/><path d="M262.1 258.5 l2.6 2.7 l-2.6 2.7 l-2.6 -2.7z"/><path d="M264.6 257.5 l2.6 2.7 l-2.6 2.7 l-2.6 -2.7z"/><path d="M269.4 256.7 l2.6 2.7 l-2.6 2.7 l-2.6 -2.7z"/><path d="M272.9 255.8 l2.6 2.7 l-2.6 2.7 l-2.6 -2.7z"/><path d="M276.8 255.1 l2.6 2.7 l-2.6 2.7 l-2.6 -2.7z"/><path d="M281.8 254.0 l2.6 2.7 l-2.6 2.7 l-2.6 -2.7z"/><path d="M285.6 253.3 l2.6 2.7 l-2.6 2.7 l-2.6 -2.7z"/><path d="M289.8 252.3 l2.6 2.7 l-2.6 2.7 l-2.6 -2.7z"/><path d="M293.6 251.0 l2.6 2.7 l-2.6 2.7 l-2.6 -2.7z"/><path d="M296.9 250.5 l2.6 2.7 l-2.6 2.7 l-2.6 -2.7z"/><path d="M303.4 248.8 l2.6 2.7 l-2.6 2.7 l-2.6 -2.7z"/><path d="M305.9 248.8 l2.6 2.7 l-2.6 2.7 l-2.6 -2.7z"/><path d="M309.8 247.6 l2.6 2.7 l-2.6 2.7 l-2.6 -2.7z"/><path d="M313.6 247.0 l2.6 2.7 l-2.6 2.7 l-2.6 -2.7z"/><path d="M318.4 245.5 l2.6 2.7 l-2.6 2.7 l-2.6 -2.7z"/><path d="M322.0 244.6 l2.6 2.7 l-2.6 2.7 l-2.6 -2.7z"/><path d="M325.5 244.1 l2.6 2.7 l-2.6 2.7 l-2.6 -2.7z"/><path d="M329.5 242.7 l2.6 2.7 l-2.6 2.7 l-2.6 -2.7z"/><path d="M334.5 241.5 l2.6 2.7 l-2.6 2.7 l-2.6 -2.7z"/><path d="M338.5 240.3 l2.6 2.7 l-2.6 2.7 l-2.6 -2.7z"/><path d="M343.0 239.0 l2.6 2.7 l-2.6 2.7 l-2.6 -2.7z"/><path d="M346.0 238.2 l2.6 2.7 l-2.6 2.7 l-2.6 -2.7z"/><path d="M352.0 236.6 l2.6 2.7 l-2.6 2.7 l-2.6 -2.7z"/><path d="M355.5 235.9 l2.6 2.7 l-2.6 2.7 l-2.6 -2.7z"/><path d="M359.0 235.2 l2.6 2.7 l-2.6 2.7 l-2.6 -2.7z"/><path d="M362.0 234.4 l2.6 2.7 l-2.6 2.7 l-2.6 -2.7z"/><path d="M367.0 233.2 l2.6 2.7 l-2.6 2.7 l-2.6 -2.7z"/><path d="M371.0 232.0 l2.6 2.7 l-2.6 2.7 l-2.6 -2.7z"/><path d="M375.0 231.1 l2.6 2.7 l-2.6 2.7 l-2.6 -2.7z"/><path d="M380.0 229.6 l2.6 2.7 l-2.6 2.7 l-2.6 -2.7z"/><path d="M385.5 227.9 l2.6 2.7 l-2.6 2.7 l-2.6 -2.7z"/><path d="M387.5 227.6 l2.6 2.7 l-2.6 2.7 l-2.6 -2.7z"/><path d="M393.0 225.6 l2.6 2.7 l-2.6 2.7 l-2.6 -2.7z"/><path d="M397.0 224.5 l2.6 2.7 l-2.6 2.7 l-2.6 -2.7z"/><path d="M399.5 224.1 l2.6 2.7 l-2.6 2.7 l-2.6 -2.7z"/><path d="M403.9 222.9 l2.6 2.7 l-2.6 2.7 l-2.6 -2.7z"/><path d="M407.3 221.6 l2.6 2.7 l-2.6 2.7 l-2.6 -2.7z"/><path d="M411.1 220.6 l2.6 2.7 l-2.6 2.7 l-2.6 -2.7z"/><path d="M417.1 219.3 l2.6 2.7 l-2.6 2.7 l-2.6 -2.7z"/><path d="M420.4 218.8 l2.6 2.7 l-2.6 2.7 l-2.6 -2.7z"/><path d="M423.8 217.6 l2.6 2.7 l-2.6 2.7 l-2.6 -2.7z"/><path d="M429.0 216.6 l2.6 2.7 l-2.6 2.7 l-2.6 -2.7z"/><path d="M431.7 216.2 l2.6 2.7 l-2.6 2.7 l-2.6 -2.7z"/><path d="M436.3 215.2 l2.6 2.7 l-2.6 2.7 l-2.6 -2.7z"/><path d="M440.9 214.3 l2.6 2.7 l-2.6 2.7 l-2.6 -2.7z"/><path d="M444.0 213.4 l2.6 2.7 l-2.6 2.7 l-2.6 -2.7z"/><path d="M448.7 212.5 l2.6 2.7 l-2.6 2.7 l-2.6 -2.7z"/><path d="M452.1 211.9 l2.6 2.7 l-2.6 2.7 l-2.6 -2.7z"/><path d="M456.4 211.1 l2.6 2.7 l-2.6 2.7 l-2.6 -2.7z"/><path d="M462.6 210.0 l2.6 2.7 l-2.6 2.7 l-2.6 -2.7z"/><path d="M464.8 209.8 l2.6 2.7 l-2.6 2.7 l-2.6 -2.7z"/><path d="M469.0 209.0 l2.6 2.7 l-2.6 2.7 l-2.6 -2.7z"/><path d="M473.3 208.4 l2.6 2.7 l-2.6 2.7 l-2.6 -2.7z"/><path d="M477.9 207.6 l2.6 2.7 l-2.6 2.7 l-2.6 -2.7z"/><path d="M481.5 207.4 l2.6 2.7 l-2.6 2.7 l-2.6 -2.7z"/><path d="M486.8 205.9 l2.6 2.7 l-2.6 2.7 l-2.6 -2.7z"/><path d="M491.0 205.0 l2.6 2.7 l-2.6 2.7 l-2.6 -2.7z"/><path d="M495.0 204.2 l2.6 2.7 l-2.6 2.7 l-2.6 -2.7z"/><path d="M499.2 203.3 l2.6 2.7 l-2.6 2.7 l-2.6 -2.7z"/><path d="M503.3 202.6 l2.6 2.7 l-2.6 2.7 l-2.6 -2.7z"/><path d="M507.3 201.9 l2.6 2.7 l-2.6 2.7 l-2.6 -2.7z"/><path d="M511.5 200.7 l2.6 2.7 l-2.6 2.7 l-2.6 -2.7z"/><path d="M515.5 200.0 l2.6 2.7 l-2.6 2.7 l-2.6 -2.7z"/><path d="M519.2 199.0 l2.6 2.7 l-2.6 2.7 l-2.6 -2.7z"/><path d="M523.2 198.2 l2.6 2.7 l-2.6 2.7 l-2.6 -2.7z"/><path d="M527.5 197.8 l2.6 2.7 l-2.6 2.7 l-2.6 -2.7z"/><path d="M531.5 196.6 l2.6 2.7 l-2.6 2.7 l-2.6 -2.7z"/><path d="M536.5 195.7 l2.6 2.7 l-2.6 2.7 l-2.6 -2.7z"/><path d="M540.0 194.9 l2.6 2.7 l-2.6 2.7 l-2.6 -2.7z"/><path d="M544.0 194.4 l2.6 2.7 l-2.6 2.7 l-2.6 -2.7z"/><path d="M548.0 193.3 l2.6 2.7 l-2.6 2.7 l-2.6 -2.7z"/><path d="M552.0 192.4 l2.6 2.7 l-2.6 2.7 l-2.6 -2.7z"/><path d="M557.5 191.7 l2.6 2.7 l-2.6 2.7 l-2.6 -2.7z"/><path d="M561.0 191.2 l2.6 2.7 l-2.6 2.7 l-2.6 -2.7z"/><path d="M565.0 190.0 l2.6 2.7 l-2.6 2.7 l-2.6 -2.7z"/><path d="M569.0 189.2 l2.6 2.7 l-2.6 2.7 l-2.6 -2.7z"/><path d="M572.5 188.9 l2.6 2.7 l-2.6 2.7 l-2.6 -2.7z"/><path d="M576.6 187.9 l2.6 2.7 l-2.6 2.7 l-2.6 -2.7z"/><path d="M581.1 187.4 l2.6 2.7 l-2.6 2.7 l-2.6 -2.7z"/><path d="M585.9 186.6 l2.6 2.7 l-2.6 2.7 l-2.6 -2.7z"/><path d="M589.0 186.0 l2.6 2.7 l-2.6 2.7 l-2.6 -2.7z"/><path d="M593.5 184.8 l2.6 2.7 l-2.6 2.7 l-2.6 -2.7z"/><path d="M598.9 184.2 l2.6 2.7 l-2.6 2.7 l-2.6 -2.7z"/><path d="M601.8 183.7 l2.6 2.7 l-2.6 2.7 l-2.6 -2.7z"/><path d="M606.1 182.7 l2.6 2.7 l-2.6 2.7 l-2.6 -2.7z"/><path d="M610.7 181.7 l2.6 2.7 l-2.6 2.7 l-2.6 -2.7z"/><path d="M613.9 181.3 l2.6 2.7 l-2.6 2.7 l-2.6 -2.7z"/><path d="M618.7 180.3 l2.6 2.7 l-2.6 2.7 l-2.6 -2.7z"/><path d="M622.4 180.3 l2.6 2.7 l-2.6 2.7 l-2.6 -2.7z"/><path d="M626.4 179.1 l2.6 2.7 l-2.6 2.7 l-2.6 -2.7z"/><path d="M630.5 178.9 l2.6 2.7 l-2.6 2.7 l-2.6 -2.7z"/><path d="M635.8 178.2 l2.6 2.7 l-2.6 2.7 l-2.6 -2.7z"/><path d="M638.9 177.7 l2.6 2.7 l-2.6 2.7 l-2.6 -2.7z"/><path d="M642.4 177.1 l2.6 2.7 l-2.6 2.7 l-2.6 -2.7z"/><path d="M648.8 175.9 l2.6 2.7 l-2.6 2.7 l-2.6 -2.7z"/><path d="M651.3 175.5 l2.6 2.7 l-2.6 2.7 l-2.6 -2.7z"/><path d="M656.0 175.0 l2.6 2.7 l-2.6 2.7 l-2.6 -2.7z"/><path d="M660.3 174.0 l2.6 2.7 l-2.6 2.7 l-2.6 -2.7z"/><path d="M665.0 173.3 l2.6 2.7 l-2.6 2.7 l-2.6 -2.7z"/><path d="M669.0 173.0 l2.6 2.7 l-2.6 2.7 l-2.6 -2.7z"/><path d="M673.3 172.4 l2.6 2.7 l-2.6 2.7 l-2.6 -2.7z"/><path d="M676.5 171.9 l2.6 2.7 l-2.6 2.7 l-2.6 -2.7z"/><path d="M680.8 171.5 l2.6 2.7 l-2.6 2.7 l-2.6 -2.7z"/><path d="M684.9 170.8 l2.6 2.7 l-2.6 2.7 l-2.6 -2.7z"/><path d="M689.9 169.8 l2.6 2.7 l-2.6 2.7 l-2.6 -2.7z"/><path d="M693.3 169.5 l2.6 2.7 l-2.6 2.7 l-2.6 -2.7z"/><path d="M698.2 168.9 l2.6 2.7 l-2.6 2.7 l-2.6 -2.7z"/><path d="M701.2 168.3 l2.6 2.7 l-2.6 2.7 l-2.6 -2.7z"/><path d="M706.1 167.6 l2.6 2.7 l-2.6 2.7 l-2.6 -2.7z"/><path d="M709.2 167.6 l2.6 2.7 l-2.6 2.7 l-2.6 -2.7z"/><path d="M714.7 166.7 l2.6 2.7 l-2.6 2.7 l-2.6 -2.7z"/><path d="M718.3 166.2 l2.6 2.7 l-2.6 2.7 l-2.6 -2.7z"/><path d="M718.6 166.3 l2.6 2.7 l-2.6 2.7 l-2.6 -2.7z"/><path d="M715.5 146.0 l2.6 2.7 l-2.6 2.7 l-2.6 -2.7z"/><path d="M720.5 146.0 l2.6 2.7 l-2.6 2.7 l-2.6 -2.7z"/></g>
<path d="M74.5 498.1 L74.5 105.2 M78.9 105.0 L80.9 109.1 M85.8 113.9 L87.2 117.9 M93.6 120.3 L94.4 120.3 M99.6 120.3 L101.9 120.3 M186.1 120.3 L186.7 120.3 M222.6 120.3 L224.1 120.3 M258.4 120.3 L259.5 120.3 M299.5 120.3 L300.8 120.3 M343.8 122.8 L345.2 126.7 M348.6 129.2 L349.4 129.2 M359.8 126.7 L361.2 122.8 M363.3 122.6 L365.7 126.9 M413.7 129.2 L414.5 129.2 M459.0 129.2 L460.0 129.2 M478.9 126.8 L480.5 122.7 M487.9 122.7 L489.9 126.8 M496.1 126.8 L498.1 122.7 M508.4 122.7 L510.4 126.8 M516.5 126.8 L518.2 122.7 M524.3 122.7 L526.4 126.8 M532.8 126.9 L535.2 122.6 M545.1 122.7 L546.9 126.8 M553.4 127.0 L556.1 122.5 M645.0 120.3 L646.2 120.3 M720.6 122.9 L720.4 126.6 M720.3 131.8 L720.5 232.7 M720.5 237.9 L720.5 347.7 M720.5 352.9 L720.5 418.5" fill="none" stroke="#000" stroke-width="1.15"/>
<g fill="#fff" stroke="#4a4a4a" stroke-width="0.7"><circle cx="71.9" cy="500.7" r="1.75"/><circle cx="74.5" cy="500.7" r="1.75"/><circle cx="74.5" cy="102.6" r="1.75"/><circle cx="77.8" cy="102.6" r="1.75"/><circle cx="82.0" cy="111.5" r="1.75"/><circle cx="85.0" cy="111.5" r="1.75"/><circle cx="88.0" cy="120.3" r="1.75"/><circle cx="91.0" cy="120.3" r="1.75"/><circle cx="97.0" cy="120.3" r="1.75"/><circle cx="104.5" cy="120.3" r="1.75"/><circle cx="108.0" cy="120.3" r="1.75"/><circle cx="111.5" cy="120.3" r="1.75"/><circle cx="115.5" cy="120.3" r="1.75"/><circle cx="121.0" cy="120.3" r="1.75"/><circle cx="126.5" cy="120.3" r="1.75"/><circle cx="129.0" cy="120.3" r="1.75"/><circle cx="132.0" cy="120.3" r="1.75"/><circle cx="137.5" cy="120.3" r="1.75"/><circle cx="139.5" cy="120.3" r="1.75"/><circle cx="144.0" cy="120.3" r="1.75"/><circle cx="148.0" cy="120.3" r="1.75"/><circle cx="152.0" cy="120.3" r="1.75"/><circle cx="156.0" cy="120.3" r="1.75"/><circle cx="160.0" cy="120.3" r="1.75"/><circle cx="164.0" cy="120.3" r="1.75"/><circle cx="167.8" cy="120.3" r="1.75"/><circle cx="171.5" cy="120.3" r="1.75"/><circle cx="176.4" cy="120.3" r="1.75"/><circle cx="179.5" cy="120.3" r="1.75"/><circle cx="183.5" cy="120.3" r="1.75"/><circle cx="189.3" cy="120.3" r="1.75"/><circle cx="193.0" cy="120.3" r="1.75"/><circle cx="196.0" cy="120.3" r="1.75"/><circle cx="199.8" cy="120.3" r="1.75"/><circle cx="204.4" cy="120.3" r="1.75"/><circle cx="208.1" cy="120.3" r="1.75"/><circle cx="212.7" cy="120.3" r="1.75"/><circle cx="216.0" cy="120.3" r="1.75"/><circle cx="220.0" cy="120.3" r="1.75"/><circle cx="226.7" cy="120.3" r="1.75"/><circle cx="228.9" cy="120.3" r="1.75"/><circle cx="232.7" cy="120.3" r="1.75"/><circle cx="237.7" cy="120.3" r="1.75"/><circle cx="240.2" cy="120.3" r="1.75"/><circle cx="245.6" cy="120.3" r="1.75"/><circle cx="248.7" cy="120.3" r="1.75"/><circle cx="252.6" cy="120.3" r="1.75"/><circle cx="255.8" cy="120.3" r="1.75"/><circle cx="262.1" cy="120.3" r="1.75"/><circle cx="264.6" cy="120.3" r="1.75"/><circle cx="269.4" cy="120.3" r="1.75"/><circle cx="272.9" cy="120.3" r="1.75"/><circle cx="276.8" cy="120.3" r="1.75"/><circle cx="281.8" cy="120.3" r="1.75"/><circle cx="285.6" cy="120.3" r="1.75"/><circle cx="289.8" cy="120.3" r="1.75"/><circle cx="293.6" cy="120.3" r="1.75"/><circle cx="296.9" cy="120.3" r="1.75"/><circle cx="303.4" cy="120.3" r="1.75"/><circle cx="305.9" cy="120.3" r="1.75"/><circle cx="309.8" cy="120.3" r="1.75"/><circle cx="313.6" cy="120.3" r="1.75"/><circle cx="318.4" cy="120.3" r="1.75"/><circle cx="322.0" cy="120.3" r="1.75"/><circle cx="325.5" cy="120.3" r="1.75"/><circle cx="329.5" cy="120.3" r="1.75"/><circle cx="334.5" cy="120.3" r="1.75"/><circle cx="338.5" cy="120.3" r="1.75"/><circle cx="343.0" cy="120.3" r="1.75"/><circle cx="346.0" cy="129.2" r="1.75"/><circle cx="352.0" cy="129.2" r="1.75"/><circle cx="355.5" cy="129.2" r="1.75"/><circle cx="359.0" cy="129.2" r="1.75"/><circle cx="362.0" cy="120.3" r="1.75"/><circle cx="367.0" cy="129.2" r="1.75"/><circle cx="371.0" cy="129.2" r="1.75"/><circle cx="375.0" cy="129.2" r="1.75"/><circle cx="380.0" cy="129.2" r="1.75"/><circle cx="385.5" cy="129.2" r="1.75"/><circle cx="387.5" cy="129.2" r="1.75"/><circle cx="393.0" cy="129.2" r="1.75"/><circle cx="397.0" cy="129.2" r="1.75"/><circle cx="399.5" cy="129.2" r="1.75"/><circle cx="403.9" cy="129.2" r="1.75"/><circle cx="407.3" cy="129.2" r="1.75"/><circle cx="411.1" cy="129.2" r="1.75"/><circle cx="417.1" cy="129.2" r="1.75"/><circle cx="420.4" cy="129.2" r="1.75"/><circle cx="423.8" cy="129.2" r="1.75"/><circle cx="429.0" cy="129.2" r="1.75"/><circle cx="431.7" cy="129.2" r="1.75"/><circle cx="436.3" cy="129.2" r="1.75"/><circle cx="440.9" cy="129.2" r="1.75"/><circle cx="444.0" cy="129.2" r="1.75"/><circle cx="448.7" cy="129.2" r="1.75"/><circle cx="452.1" cy="129.2" r="1.75"/><circle cx="456.4" cy="129.2" r="1.75"/><circle cx="462.6" cy="129.2" r="1.75"/><circle cx="464.8" cy="129.2" r="1.75"/><circle cx="469.0" cy="129.2" r="1.75"/><circle cx="473.3" cy="129.2" r="1.75"/><circle cx="477.9" cy="129.2" r="1.75"/><circle cx="481.5" cy="120.3" r="1.75"/><circle cx="486.8" cy="120.3" r="1.75"/><circle cx="491.0" cy="129.2" r="1.75"/><circle cx="495.0" cy="129.2" r="1.75"/><circle cx="499.2" cy="120.3" r="1.75"/><circle cx="503.3" cy="120.3" r="1.75"/><circle cx="507.3" cy="120.3" r="1.75"/><circle cx="511.5" cy="129.2" r="1.75"/><circle cx="515.5" cy="129.2" r="1.75"/><circle cx="519.2" cy="120.3" r="1.75"/><circle cx="523.2" cy="120.3" r="1.75"/><circle cx="527.5" cy="129.2" r="1.75"/><circle cx="531.5" cy="129.2" r="1.75"/><circle cx="536.5" cy="120.3" r="1.75"/><circle cx="540.0" cy="120.3" r="1.75"/><circle cx="544.0" cy="120.3" r="1.75"/><circle cx="548.0" cy="129.2" r="1.75"/><circle cx="552.0" cy="129.2" r="1.75"/><circle cx="557.5" cy="120.3" r="1.75"/><circle cx="561.0" cy="120.3" r="1.75"/><circle cx="565.0" cy="120.3" r="1.75"/><circle cx="569.0" cy="120.3" r="1.75"/><circle cx="572.5" cy="120.3" r="1.75"/><circle cx="576.6" cy="120.3" r="1.75"/><circle cx="581.1" cy="120.3" r="1.75"/><circle cx="585.9" cy="120.3" r="1.75"/><circle cx="589.0" cy="120.3" r="1.75"/><circle cx="593.5" cy="120.3" r="1.75"/><circle cx="598.9" cy="120.3" r="1.75"/><circle cx="601.8" cy="120.3" r="1.75"/><circle cx="606.1" cy="120.3" r="1.75"/><circle cx="610.7" cy="120.3" r="1.75"/><circle cx="613.9" cy="120.3" r="1.75"/><circle cx="618.7" cy="120.3" r="1.75"/><circle cx="622.4" cy="120.3" r="1.75"/><circle cx="626.4" cy="120.3" r="1.75"/><circle cx="630.5" cy="120.3" r="1.75"/><circle cx="635.8" cy="120.3" r="1.75"/><circle cx="638.9" cy="120.3" r="1.75"/><circle cx="642.4" cy="120.3" r="1.75"/><circle cx="648.8" cy="120.3" r="1.75"/><circle cx="651.3" cy="120.3" r="1.75"/><circle cx="656.0" cy="120.3" r="1.75"/><circle cx="660.3" cy="120.3" r="1.75"/><circle cx="665.0" cy="120.3" r="1.75"/><circle cx="669.0" cy="120.3" r="1.75"/><circle cx="673.3" cy="120.3" r="1.75"/><circle cx="676.5" cy="120.3" r="1.75"/><circle cx="680.8" cy="120.3" r="1.75"/><circle cx="684.9" cy="120.3" r="1.75"/><circle cx="689.9" cy="120.3" r="1.75"/><circle cx="693.3" cy="120.3" r="1.75"/><circle cx="698.2" cy="120.3" r="1.75"/><circle cx="701.2" cy="120.3" r="1.75"/><circle cx="706.1" cy="120.3" r="1.75"/><circle cx="709.2" cy="120.3" r="1.75"/><circle cx="714.7" cy="120.3" r="1.75"/><circle cx="718.3" cy="120.3" r="1.75"/><circle cx="719.6" cy="120.3" r="1.75"/><circle cx="720.7" cy="120.3" r="1.75"/><circle cx="720.3" cy="129.2" r="1.75"/><circle cx="720.5" cy="235.3" r="1.75"/><circle cx="720.5" cy="350.3" r="1.75"/><circle cx="720.5" cy="421.1" r="1.75"/></g>
<g stroke="#000" stroke-width="2.1" fill="none" stroke-linecap="butt">
<rect x="70.2" y="58.4" width="659.6" height="486.5"/>
<path d="M679.1 544.9 v-5.3"/>
<path d="M628.3 544.9 v-10.3"/>
<path d="M577.6 544.9 v-5.3"/>
<path d="M526.8 544.9 v-10.3"/>
<path d="M476.1 544.9 v-5.3"/>
<path d="M425.4 544.9 v-10.3"/>
<path d="M374.6 544.9 v-5.3"/>
<path d="M323.9 544.9 v-10.3"/>
<path d="M273.2 544.9 v-5.3"/>
<path d="M222.4 544.9 v-10.3"/>
<path d="M171.7 544.9 v-5.3"/>
<path d="M120.9 544.9 v-10.3"/>
<path d="M111.4 58.4 v5.3"/>
<path d="M152.6 58.4 v10.3"/>
<path d="M193.9 58.4 v5.3"/>
<path d="M235.1 58.4 v10.3"/>
<path d="M276.3 58.4 v5.3"/>
<path d="M317.5 58.4 v10.3"/>
<path d="M358.8 58.4 v5.3"/>
<path d="M400.0 58.4 v10.3"/>
<path d="M441.2 58.4 v5.3"/>
<path d="M482.4 58.4 v10.3"/>
<path d="M523.7 58.4 v5.3"/>
<path d="M564.9 58.4 v10.3"/>
<path d="M606.1 58.4 v5.3"/>
<path d="M647.3 58.4 v10.3"/>
<path d="M688.6 58.4 v5.3"/>
<path d="M70.2 514.5 h5.3"/>
<path d="M70.2 484.1 h10.3"/>
<path d="M70.2 453.7 h5.3"/>
<path d="M70.2 423.3 h10.3"/>
<path d="M70.2 392.9 h5.3"/>
<path d="M70.2 362.5 h10.3"/>
<path d="M70.2 332.1 h5.3"/>
<path d="M70.2 301.6 h10.3"/>
<path d="M70.2 271.2 h5.3"/>
<path d="M70.2 240.8 h10.3"/>
<path d="M70.2 210.4 h5.3"/>
<path d="M70.2 180.0 h10.3"/>
<path d="M70.2 149.6 h5.3"/>
<path d="M70.2 119.2 h10.3"/>
<path d="M70.2 88.8 h5.3"/>
<path d="M729.8 500.7 h-10.3"/>
<path d="M729.8 456.4 h-5.3"/>
<path d="M729.8 412.2 h-10.3"/>
<path d="M729.8 368.0 h-5.3"/>
<path d="M729.8 323.8 h-10.3"/>
<path d="M729.8 279.5 h-5.3"/>
<path d="M729.8 235.3 h-10.3"/>
<path d="M729.8 191.1 h-5.3"/>
<path d="M729.8 146.9 h-10.3"/>
<path d="M729.8 102.6 h-5.3"/>
</g>
<g font-family="'Liberation Sans', sans-serif" font-weight="bold" font-size="19.4px" fill="#000" stroke="#000" stroke-width="0.3">
<text x="729.8" y="570.2" text-anchor="middle">0</text>
<text x="628.3" y="570.2" text-anchor="middle">10</text>
<text x="526.8" y="570.2" text-anchor="middle">20</text>
<text x="425.4" y="570.2" text-anchor="middle">30</text>
<text x="323.9" y="570.2" text-anchor="middle">40</text>
<text x="222.4" y="570.2" text-anchor="middle">50</text>
<text x="120.9" y="570.2" text-anchor="middle">60</text>
<text x="70.2" y="43.0" text-anchor="middle">0</text>
<text x="152.6" y="43.0" text-anchor="middle">2</text>
<text x="235.1" y="43.0" text-anchor="middle">4</text>
<text x="317.5" y="43.0" text-anchor="middle">6</text>
<text x="400.0" y="43.0" text-anchor="middle">8</text>
<text x="482.4" y="43.0" text-anchor="middle">10</text>
<text x="564.9" y="43.0" text-anchor="middle">12</text>
<text x="647.3" y="43.0" text-anchor="middle">14</text>
<text x="729.8" y="43.0" text-anchor="middle">16</text>
<text x="60.0" y="549.8" text-anchor="end">10</text>
<text x="60.0" y="489.0" text-anchor="end">20</text>
<text x="60.0" y="428.2" text-anchor="end">30</text>
<text x="60.0" y="367.4" text-anchor="end">40</text>
<text x="60.0" y="306.5" text-anchor="end">50</text>
<text x="60.0" y="245.7" text-anchor="end">60</text>
<text x="60.0" y="184.9" text-anchor="end">70</text>
<text x="60.0" y="124.1" text-anchor="end">80</text>
<text x="60.0" y="63.3" text-anchor="end">90</text>
<text x="740.4" y="505.5" text-anchor="start">0.0</text>
<text x="740.4" y="417.0" text-anchor="start">0.1</text>
<text x="740.4" y="328.6" text-anchor="start">0.2</text>
<text x="740.4" y="240.1" text-anchor="start">0.3</text>
<text x="740.4" y="151.7" text-anchor="start">0.4</text>
<text x="740.4" y="63.2" text-anchor="start">0.5</text>
</g>
<g font-family="'Liberation Sans', sans-serif" font-weight="bold" fill="#000" stroke="#000" stroke-width="0.35">
<text x="407.3" y="17.7" font-size="23.3px" text-anchor="middle">Time (Sec)</text>
<text x="400" y="599.7" font-size="23.5px" text-anchor="middle">Speed (km/h)</text>
<text transform="translate(20.7,405.7) rotate(-90)" font-size="23.5px" text-anchor="start">Temperauter (<tspan font-size="11.5px" dy="-12.3" dx="1.4">o</tspan><tspan dy="12.3" dx="1.6">C)</tspan></text>
<text transform="translate(790.5,532.4) rotate(-90)" font-size="23.4px" text-anchor="start">Instantaneous Coefficient of Friction<tspan dx="3.5">(</tspan><tspan font-weight="normal" stroke="none" dy="1" dx="0.6">μ</tspan><tspan font-weight="normal" stroke-width="0.2" font-size="14.5px" dy="8.5">a</tspan><tspan dy="-9.5" dx="0.6">)</tspan></text>
<text x="92.3" y="91.0" font-size="25.5px">65 km/h</text>
<text x="125" y="335.3" font-size="23.8px">Disc Temperature</text>
<text x="143" y="431.8" font-size="23.8px">Pad Temperature</text>
</g>
<path d="M218.0 306.2 L234.3 287.3" stroke="#000" stroke-width="1.3" fill="none"/>
<path d="M240.0 280.6 L236.2 289.0 L232.3 285.6 z" fill="#000"/>
<path d="M338.8 429.8 L361.1 440.7" stroke="#000" stroke-width="1.3" fill="none"/>
<path d="M369.0 444.6 L360.0 443.1 L362.2 438.4 z" fill="#000"/>
<rect x="90.1" y="129.1" width="109" height="42.5" fill="#fff" stroke="#1c1c1c" stroke-width="1.75"/>
<path d="M100.8 148.5 H162" stroke="#000" stroke-width="1.15"/>
<circle cx="131.2" cy="148.5" r="2.2" fill="#fff" stroke="#4a4a4a" stroke-width="0.8"/>
<text x="168.7" y="157.5" font-family="'Liberation Sans', sans-serif" font-size="20.5px" stroke="#000" stroke-width="0.25">μ<tspan font-size="13.8px" dy="8.2" dx="0.6" stroke-width="0.4">a</tspan></text>
<rect x="583" y="294" width="123.9" height="132.6" fill="#fff" stroke="#1c1c1c" stroke-width="1.8"/>
<path d="M587 306.5 H637.2" stroke="#000" stroke-width="1.15"/>
<g fill="#fff" stroke="#ff2a2a" stroke-width="0.8"><circle cx="612.0" cy="306.5" r="2.45"/></g>
<text x="642.5" y="312.8" font-family="'Liberation Sans', sans-serif" font-size="19.5px" stroke="#000" stroke-width="0.25">Pad 1</text>
<path d="M587 330.5 H637.2" stroke="#000" stroke-width="1.15"/>
<g fill="#fff" stroke="#19f019" stroke-width="0.8"><path d="M612.0 327.5 l2.9 5.2 h-5.8z"/></g>
<text x="642.5" y="336.8" font-family="'Liberation Sans', sans-serif" font-size="19.5px" stroke="#000" stroke-width="0.25">Pad 2</text>
<path d="M587 354.5 H637.2" stroke="#000" stroke-width="1.15"/>
<g fill="#0000ff" stroke="#0000ff" stroke-width="0.5"><path d="M612.0 351.5 l2.9 5.2 h-5.8z"/></g>
<text x="642.5" y="360.8" font-family="'Liberation Sans', sans-serif" font-size="19.5px" stroke="#000" stroke-width="0.25">Disc 1</text>
<path d="M587 378.2 H637.2" stroke="#000" stroke-width="1.15"/>
<g fill="#00ffff" stroke="#00ffff" stroke-width="0.5"><path d="M612.0 381.2 l2.9 -5.2 h-5.8z"/></g>
<text x="642.5" y="384.5" font-family="'Liberation Sans', sans-serif" font-size="19.5px" stroke="#000" stroke-width="0.25">Disc 2</text>
<path d="M587 402.1 H637.2" stroke="#000" stroke-width="1.15"/>
<g fill="#ff00ff" stroke="#ff00ff" stroke-width="0.5"><path d="M612.0 398.9 l3 3.2 l-3 3.2 l-3 -3.2z"/></g>
<text x="642.5" y="408.4" font-family="'Liberation Sans', sans-serif" font-size="19.5px" stroke="#000" stroke-width="0.25">Disc 3</text>
</svg>
</body></html>
